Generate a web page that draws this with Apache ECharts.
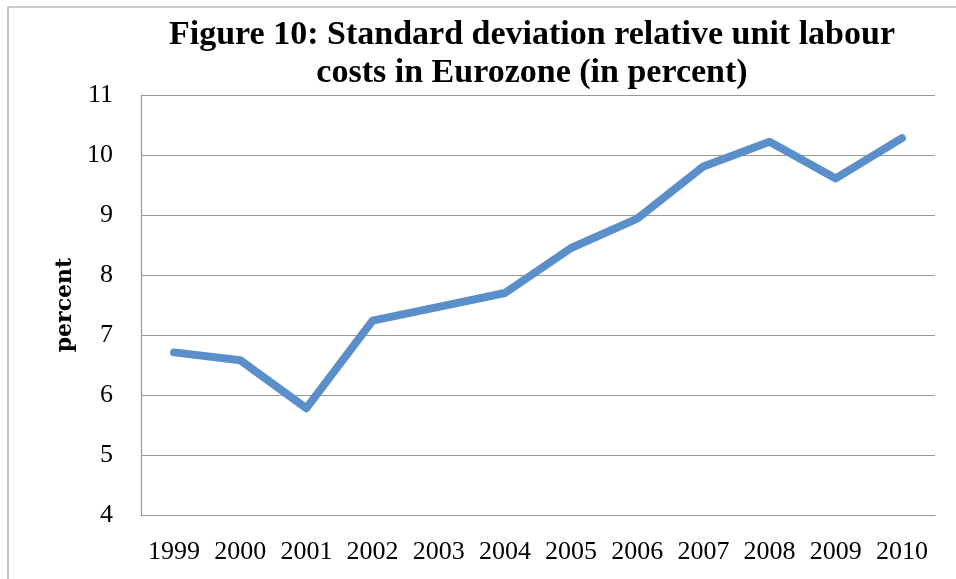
<!DOCTYPE html>
<html>
<head>
<meta charset="utf-8">
<script src="https://cdn.jsdelivr.net/npm/echarts@6/dist/echarts.min.js"></script>
<style>html,body{margin:0;padding:0;background:#fff}#c{width:956px;height:579px}</style>
</head>
<body>
<div id="c"></div>
<script>
const years = ['1999','2000','2001','2002','2003','2004','2005','2006','2007','2008','2009','2010'];
const stdDev = [6.71, 6.58, 5.78, 7.24, 7.47, 7.70, 8.45, 8.94, 9.81, 10.22, 9.61, 10.28];
const titleLines = ['Figure 10: Standard deviation relative unit labour', 'costs in Eurozone (in percent)'];
const yAxisName = 'percent';

const chart = echarts.init(document.getElementById('c'), null, {renderer: 'canvas'});
chart.setOption({
  animation: false,
  backgroundColor: '#fff',
  graphic: [{
    type: 'rect', shape: {x: 8, y: 7, width: 1000, height: 600},
    style: {fill: 'none', stroke: '#9a9a9a', lineWidth: 1.2}, silent: true, z: -1
  }],
  title: {
    text: titleLines.join('\n'),
    left: 527, top: 11, textAlign: 'center',
    textStyle: {fontFamily: 'Liberation Serif', fontWeight: 'bold', fontSize: 34, lineHeight: 38, color: '#000'}
  },
  grid: {left: 141, top: 95, right: 21, bottom: 64, containLabel: false},
  xAxis: {
    type: 'category', data: years, boundaryGap: true,
    axisLine: {show: true, lineStyle: {color: '#999', width: 1.2}},
    axisTick: {show: false},
    axisLabel: {fontFamily: 'Liberation Serif', fontSize: 26, color: '#000', margin: 24, interval: 0}
  },
  yAxis: {
    type: 'value', min: 4, max: 11, interval: 1,
    name: yAxisName, nameLocation: 'middle', nameGap: 65, nameRotate: 90,
    nameTextStyle: {fontFamily: 'DejaVu Serif', fontWeight: 'bold', fontSize: 22, color: '#000'},
    axisLine: {show: true, lineStyle: {color: '#999', width: 1.2}},
    axisTick: {show: false},
    splitLine: {show: true, lineStyle: {color: '#999', width: 1.2}},
    axisLabel: {fontFamily: 'Liberation Serif', fontSize: 26, color: '#000', margin: 28}
  },
  series: [{
    type: 'line', data: stdDev, showSymbol: false, symbol: 'none',
    lineStyle: {color: '#5B8FC9', width: 8, cap: 'round', join: 'round'}
  }]
});
</script>
</body>
</html>
